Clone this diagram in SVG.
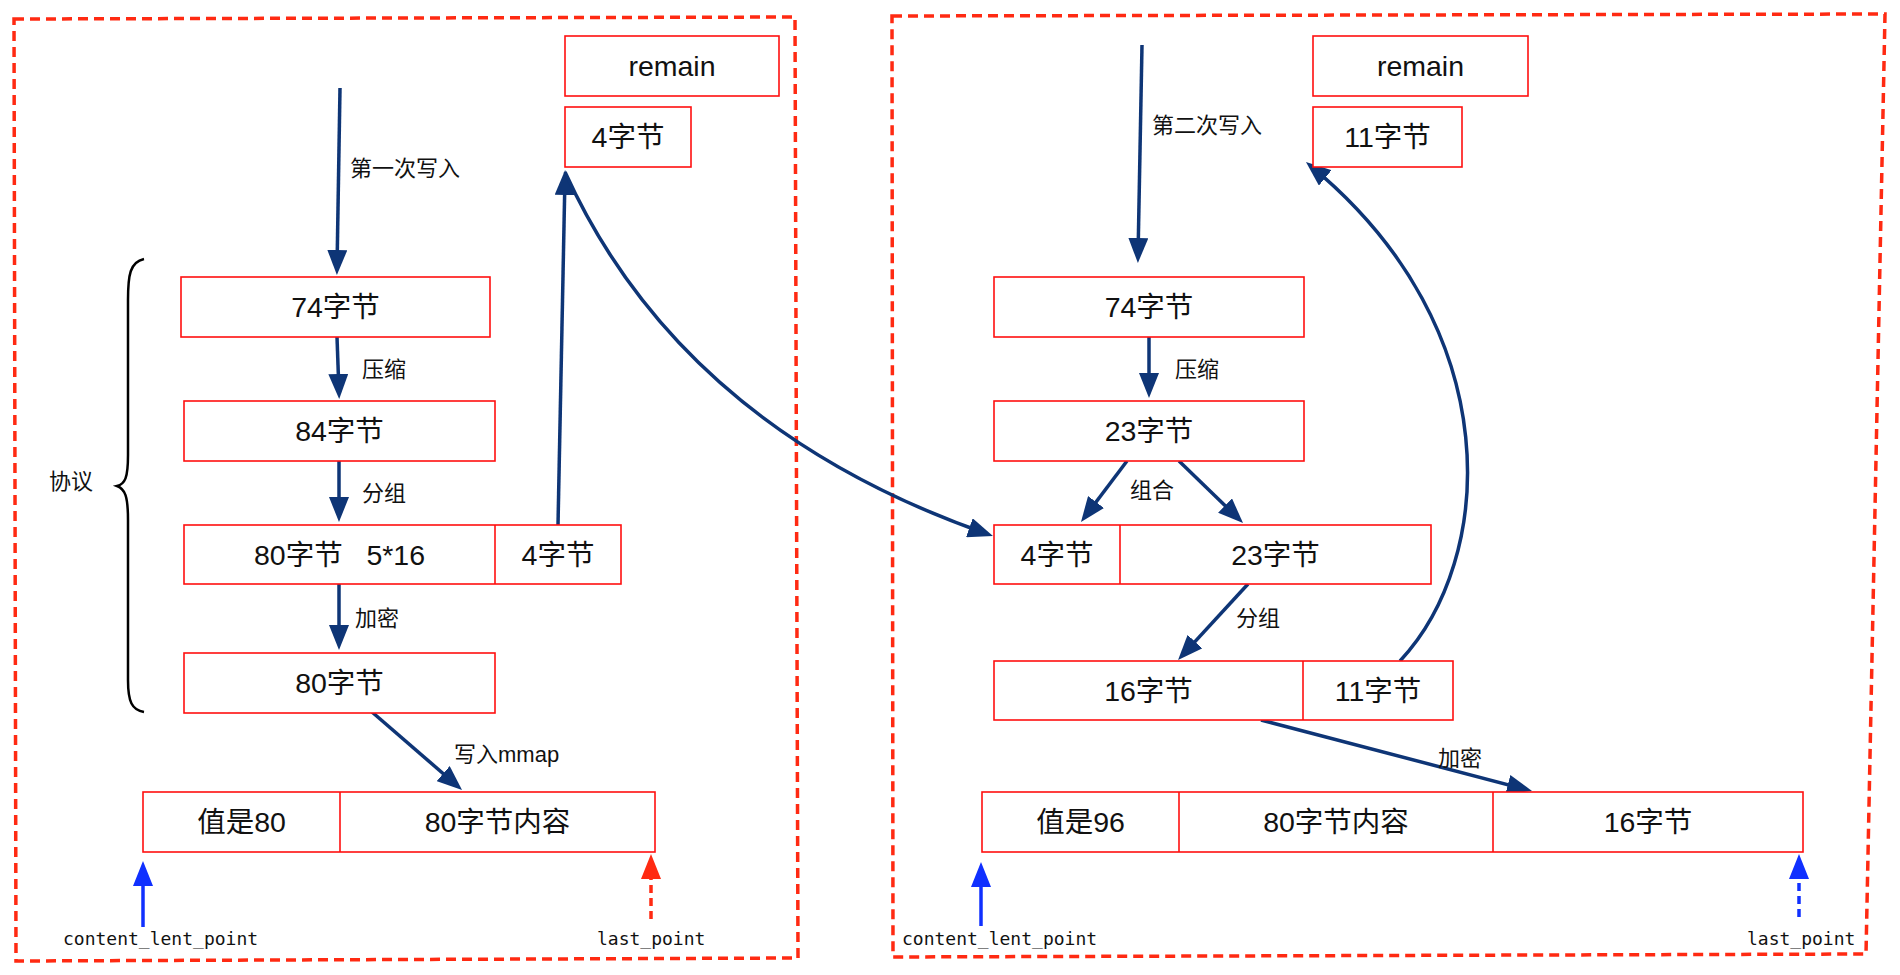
<svg xmlns="http://www.w3.org/2000/svg" width="1900" height="975" viewBox="0 0 1900 975">
<style>
.frame{fill:none;stroke:#ff2a12;stroke-width:3.5;stroke-dasharray:10 6}
.box{fill:#fff;stroke:#ff1010;stroke-width:1.6}
.div{stroke:#ff1010;stroke-width:1.6}
.bt{font-family:"Liberation Sans","Noto Sans CJK SC",sans-serif;font-size:28.5px;fill:#111;text-anchor:middle}
.lb{font-family:"Liberation Sans","Noto Sans CJK SC",sans-serif;font-size:22px;fill:#111}
.mono{font-family:"DejaVu Sans Mono","Liberation Mono",monospace;font-size:18px;fill:#111}
.nav{fill:none;stroke:#0e3576;stroke-width:3.5;marker-end:url(#ah)}
.ptr{fill:none;stroke:#1030ff;stroke-width:3.5;marker-end:url(#ab)}
.ptrd{fill:none;stroke:#1030ff;stroke-width:3.5;stroke-dasharray:8 5;marker-end:url(#ab)}
.ptrr{fill:none;stroke:#ff2a12;stroke-width:3.5;stroke-dasharray:8 5;marker-end:url(#ar)}
</style>
<defs>
<marker id="ah" markerUnits="userSpaceOnUse" markerWidth="25" markerHeight="20" viewBox="0 0 25 20" refX="19" refY="10" orient="auto"><path d="M0,0 L25,10 L0,20 z" fill="#0e3576"/></marker>
<marker id="ab" markerUnits="userSpaceOnUse" markerWidth="25" markerHeight="20" viewBox="0 0 25 20" refX="19" refY="10" orient="auto"><path d="M0,0 L25,10 L0,20 z" fill="#1030ff"/></marker>
<marker id="ar" markerUnits="userSpaceOnUse" markerWidth="25" markerHeight="20" viewBox="0 0 25 20" refX="19" refY="10" orient="auto"><path d="M0,0 L25,10 L0,20 z" fill="#ff2a12"/></marker>
</defs>
<rect width="1900" height="975" fill="#fff"/>
<g id="frames">
<polygon class="frame" points="14,19 795,17 798,958 16,961"/>
<polygon class="frame" points="892,16 1885,14 1866,954 893,957"/>
</g>
<g id="brace">
<path d="M144,259 C130,262 128,275 128,300 L128,455 C128,478 125,484 117,486 C125,489 128,496 128,520 L128,680 C128,702 132,710 144,712" fill="none" stroke="#000" stroke-width="2.5"/>
<text class="lb" x="49" y="489">协议</text>
</g>
<g id="connectors">
<path class="nav" d="M340,88 L337,269"/>
<path class="nav" d="M337,337 L339,393"/>
<path class="nav" d="M339,461 L339,516"/>
<path class="nav" d="M339,584 L339,644"/>
<path class="nav" d="M372,712 L457.5,786"/>
<path class="nav" d="M558,525 L565,176"/>
<path class="nav" d="M565,172 Q681,427 987.3,534"/>
<path class="nav" d="M1142,45 L1138,257"/>
<path class="nav" d="M1149,337 L1149,392"/>
<path class="nav" d="M1127,461 L1084.6,517.2"/>
<path class="nav" d="M1179,461 L1238.7,518.8"/>
<path class="nav" d="M1248,584 L1182.1,655.6"/>
<path class="nav" d="M1261,720 L1526.2,789.5"/>
<path class="nav" d="M1400,661 C1495,560 1510,330 1310.6,165.8"/>
<path class="ptr" d="M143,927 L143,867"/>
<path class="ptr" d="M981,926 L981,868"/>
<path class="ptrr" d="M651,919 L651,860"/>
<path class="ptrd" d="M1799,917 L1799,860"/>
</g>
<g id="labels">
<text class="lb" x="350" y="176">第一次写入</text>
<text class="lb" x="362" y="377">压缩</text>
<text class="lb" x="362" y="501">分组</text>
<text class="lb" x="355" y="626">加密</text>
<text class="lb" x="454" y="762">写入mmap</text>
<text class="lb" x="1152" y="133">第二次写入</text>
<text class="lb" x="1175" y="377">压缩</text>
<text class="lb" x="1130" y="498">组合</text>
<text class="lb" x="1236" y="626">分组</text>
<text class="lb" x="1438" y="766">加密</text>
<text class="mono" x="63" y="945">content_lent_point</text>
<text class="mono" x="597" y="945">last_point</text>
<text class="mono" x="902" y="945">content_lent_point</text>
<text class="mono" x="1747" y="945">last_point</text>
</g>
<g id="n-remain-1"><rect class="box" x="565" y="36" width="214" height="60"/><text class="bt" x="672" y="76">remain</text></g>
<g id="n-rest4-1"><rect class="box" x="565" y="107" width="126" height="60"/><text class="bt" x="628" y="147">4字节</text></g>
<g id="n-74-1"><rect class="box" x="181" y="277" width="309" height="60"/><text class="bt" x="335.5" y="317">74字节</text></g>
<g id="n-84-1"><rect class="box" x="184" y="401" width="311" height="60"/><text class="bt" x="339.5" y="441">84字节</text></g>
<g id="n-80g-1"><rect class="box" x="184" y="525" width="437" height="59"/><line class="div" x1="495" y1="525" x2="495" y2="584"/><text class="bt" x="339.5" y="564.5" xml:space="preserve" style="white-space:pre">80字节   5*16</text><text class="bt" x="558" y="564.5">4字节</text></g>
<g id="n-80e-1"><rect class="box" x="184" y="653" width="311" height="60"/><text class="bt" x="339.5" y="693">80字节</text></g>
<g id="n-mmap-1"><rect class="box" x="143" y="792" width="512" height="60"/><line class="div" x1="340" y1="792" x2="340" y2="852"/><text class="bt" x="241.5" y="832">值是80</text><text class="bt" x="497.5" y="832">80字节内容</text></g>
<g id="n-remain-2"><rect class="box" x="1313" y="36" width="215" height="60"/><text class="bt" x="1420.5" y="76">remain</text></g>
<g id="n-rest11-2"><rect class="box" x="1313" y="107" width="149" height="60"/><text class="bt" x="1387.5" y="147">11字节</text></g>
<g id="n-74-2"><rect class="box" x="994" y="277" width="310" height="60"/><text class="bt" x="1149" y="317">74字节</text></g>
<g id="n-23-2"><rect class="box" x="994" y="401" width="310" height="60"/><text class="bt" x="1149" y="441">23字节</text></g>
<g id="n-comb-2"><rect class="box" x="994" y="525" width="437" height="59"/><line class="div" x1="1120" y1="525" x2="1120" y2="584"/><text class="bt" x="1057" y="564.5">4字节</text><text class="bt" x="1275.5" y="564.5">23字节</text></g>
<g id="n-group-2"><rect class="box" x="994" y="661" width="459" height="59"/><line class="div" x1="1303" y1="661" x2="1303" y2="720"/><text class="bt" x="1148.5" y="700.5">16字节</text><text class="bt" x="1378" y="700.5">11字节</text></g>
<g id="n-mmap-2"><rect class="box" x="982" y="792" width="821" height="60"/><line class="div" x1="1179" y1="792" x2="1179" y2="852"/><line class="div" x1="1493" y1="792" x2="1493" y2="852"/><text class="bt" x="1080.5" y="832">值是96</text><text class="bt" x="1336" y="832">80字节内容</text><text class="bt" x="1648" y="832">16字节</text></g>
</svg>
